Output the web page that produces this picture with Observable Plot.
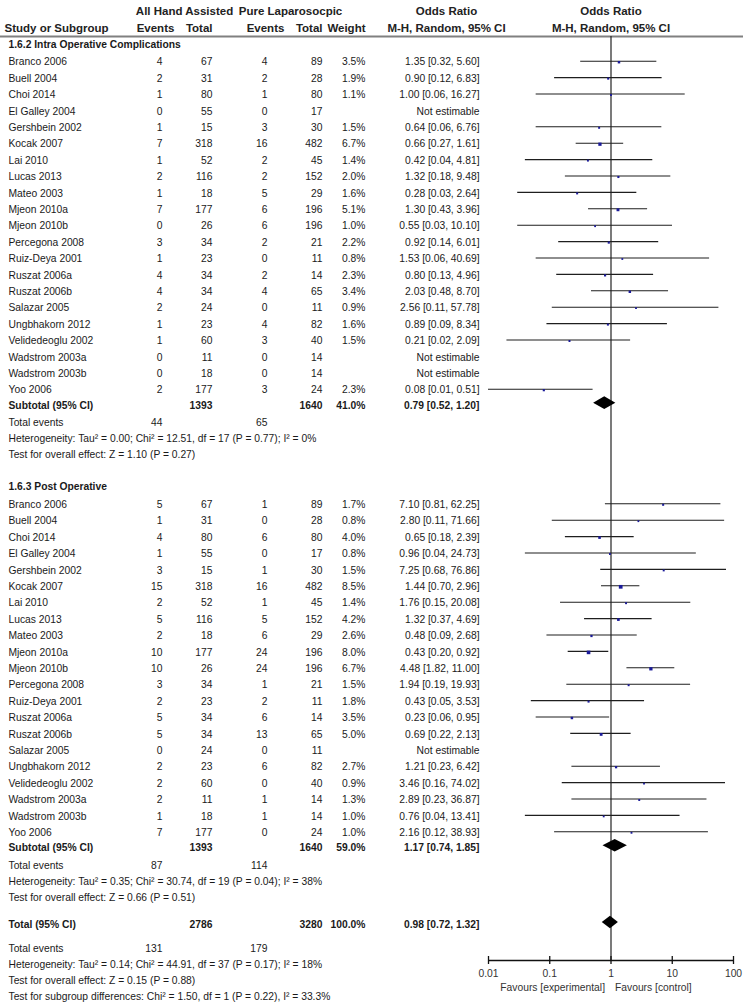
<!DOCTYPE html>
<html><head><meta charset="utf-8">
<script src="https://cdn.jsdelivr.net/npm/d3@7"></script>
<script src="https://cdn.jsdelivr.net/npm/@observablehq/plot@0.6"></script>
<style>body{margin:0;background:#fff}svg{display:block}</style>
</head><body><div id="chart"></div>
<script>
// ---------- data ----------
const studyNames = ["Branco 2006","Buell 2004","Choi 2014","El Galley 2004","Gershbein 2002","Kocak 2007","Lai 2010","Lucas 2013","Mateo 2003","Mjeon 2010a","Mjeon 2010b","Percegona 2008","Ruiz-Deya 2001","Ruszat 2006a","Ruszat 2006b","Salazar 2005","Ungbhakorn 2012","Velidedeoglu 2002","Wadstrom 2003a","Wadstrom 2003b","Yoo 2006"];

const intraEvents1 = [4,2,1,0,1,7,1,2,1,7,0,3,1,4,4,2,1,1,0,0,2];
const intraTotal1  = [67,31,80,55,15,318,52,116,18,177,26,34,23,34,34,24,23,60,11,18,177];
const intraEvents2 = [4,2,1,0,3,16,2,2,5,6,6,2,0,2,4,0,4,3,0,0,3];
const intraTotal2  = [89,28,80,17,30,482,45,152,29,196,196,21,11,14,65,11,82,40,14,14,24];
const intraWeight  = [3.5,1.9,1.1,null,1.5,6.7,1.4,2.0,1.6,5.1,1.0,2.2,0.8,2.3,3.4,0.9,1.6,1.5,null,null,2.3];
const intraOR      = [1.35,0.90,1.00,null,0.64,0.66,0.42,1.32,0.28,1.30,0.55,0.92,1.53,0.80,2.03,2.56,0.89,0.21,null,null,0.08];
const intraLo      = [0.32,0.12,0.06,null,0.06,0.27,0.04,0.18,0.03,0.43,0.03,0.14,0.06,0.13,0.48,0.11,0.09,0.02,null,null,0.01];
const intraHi      = [5.60,6.83,16.27,null,6.76,1.61,4.81,9.48,2.64,3.96,10.10,6.01,40.69,4.96,8.70,57.78,8.34,2.09,null,null,0.51];

const postEvents1 = [5,1,4,1,3,15,2,5,2,10,10,3,2,5,5,0,2,2,2,1,7];
const postTotal1  = [67,31,80,55,15,318,52,116,18,177,26,34,23,34,34,24,23,60,11,18,177];
const postEvents2 = [1,0,6,0,1,16,1,5,6,24,24,1,2,6,13,0,6,0,1,1,0];
const postTotal2  = [89,28,80,17,30,482,45,152,29,196,196,21,11,14,65,11,82,40,14,14,24];
const postWeight  = [1.7,0.8,4.0,0.8,1.5,8.5,1.4,4.2,2.6,8.0,6.7,1.5,1.8,3.5,5.0,null,2.7,0.9,1.3,1.0,1.0];
const postOR      = [7.10,2.80,0.65,0.96,7.25,1.44,1.76,1.32,0.48,0.43,4.48,1.94,0.43,0.23,0.69,null,1.21,3.46,2.89,0.76,2.16];
const postLo      = [0.81,0.11,0.18,0.04,0.68,0.70,0.15,0.37,0.09,0.20,1.82,0.19,0.05,0.06,0.22,null,0.23,0.16,0.23,0.04,0.12];
const postHi      = [62.25,71.66,2.39,24.73,76.86,2.96,20.08,4.69,2.68,0.92,11.00,19.93,3.53,0.95,2.13,null,6.42,74.02,36.87,13.41,38.93];

const sectionTitles   = ["1.6.2 Intra Operative Complications","1.6.3 Post Operative"];
const subtotalTotal1  = [1393,1393];
const subtotalTotal2  = [1640,1640];
const subtotalWeight  = [41.0,59.0];
const subtotalOR      = [0.79,1.17];
const subtotalLo      = [0.52,0.74];
const subtotalHi      = [1.20,1.85];
const subEvents1      = [44,87];
const subEvents2      = [65,114];
const subHeterogeneity = ["Heterogeneity: Tau² = 0.00; Chi² = 12.51, df = 17 (P = 0.77); I² = 0%","Heterogeneity: Tau² = 0.35; Chi² = 30.74, df = 19 (P = 0.04); I² = 38%"];
const subOverall       = ["Test for overall effect: Z = 1.10 (P = 0.27)","Test for overall effect: Z = 0.66 (P = 0.51)"];

const totalTotal1 = 2786, totalTotal2 = 3280, totalWeight = 100.0;
const totalOR = 0.98, totalLo = 0.72, totalHi = 1.32;
const totalEvents1 = 131, totalEvents2 = 179;
const totalStats = ["Heterogeneity: Tau² = 0.14; Chi² = 44.91, df = 37 (P = 0.17); I² = 18%","Test for overall effect: Z = 0.15 (P = 0.88)","Test for subgroup differences: Chi² = 1.50, df = 1 (P = 0.22), I² = 33.3%"];

const axisTicks = [0.01,0.1,1,10,100];
const axisTickLabels = ["0.01","0.1","1","10","100"];
const favoursLabels = ["Favours [experimental]","Favours [control]"];

// ---------- layout (row units) ----------
const U = 16.4;
const L = {
  head1: 11/U, head2: 28/U, headLine: 36/U,
  sec: [44/U, 486/U], start: [61.7/U, 504.3/U],
  axis: 960/U, tickLab: 973.5/U, fav: 987/U
};
const f2 = d3.format(".2f");
const orText = (o,l,h) => o == null ? "Not estimable" : `${f2(o)} [${f2(l)}, ${f2(h)}]`;
const wText = w => w == null ? "" : w.toFixed(1) + "%";
const s = v => v == null ? "" : String(v);

const sections = [
  {e1:intraEvents1,t1:intraTotal1,e2:intraEvents2,t2:intraTotal2,w:intraWeight,or:intraOR,lo:intraLo,hi:intraHi},
  {e1:postEvents1,t1:postTotal1,e2:postEvents2,t2:postTotal2,w:postWeight,or:postOR,lo:postLo,hi:postHi}
];
const studyRows = [];
const subRows = [];
const plainRows = [];
const evRows = [];
const secRows = [];
sections.forEach((S, k) => {
  const y0 = L.start[k];
  secRows.push({y: L.sec[k], text: sectionTitles[k]});
  studyNames.forEach((n, i) => {
    studyRows.push({y: y0 + i, name: n, e1: s(S.e1[i]), t1: s(S.t1[i]), e2: s(S.e2[i]), t2: s(S.t2[i]),
      w: S.w[i], or: S.or[i], lo: S.lo[i], hi: S.hi[i], wt: wText(S.w[i]), ot: orText(S.or[i], S.lo[i], S.hi[i])});
  });
  const ys = y0 + studyNames.length - 1;
  subRows.push({y: ys + 0.93, name: "Subtotal (95% CI)", t1: s(subtotalTotal1[k]), t2: s(subtotalTotal2[k]),
    wt: wText(subtotalWeight[k]), ot: orText(subtotalOR[k], subtotalLo[k], subtotalHi[k]),
    or: subtotalOR[k], lo: subtotalLo[k], hi: subtotalHi[k]});
  evRows.push({y: ys + 2.0, e1: s(subEvents1[k]), e2: s(subEvents2[k])});
  plainRows.push({y: ys + 2.98, text: subHeterogeneity[k]});
  plainRows.push({y: ys + 3.93, text: subOverall[k]});
});
subRows.push({y: 924.3/U, name: "Total (95% CI)", t1: s(totalTotal1), t2: s(totalTotal2), wt: wText(totalWeight),
  ot: orText(totalOR, totalLo, totalHi), or: totalOR, lo: totalLo, hi: totalHi});
evRows.push({y: 948.3/U, e1: s(totalEvents1), e2: s(totalEvents2)});
totalStats.forEach((t, i) => plainRows.push({y: (964.3 + i*15.85)/U, text: t}));
evRows.forEach(r => r.name = "Total events");

const estRows = studyRows.filter(d => d.or != null);
const H = 6.3 / U;
const diamonds = subRows.flatMap((d, k) => [
  {id: k, y: d.y - 0.14 - H, x1: d.or, x2: d.or},
  {id: k, y: d.y - 0.14, x1: d.lo, x2: d.hi},
  {id: k, y: d.y - 0.14 + H, x1: d.or, x2: d.or}
]);

const col = (data, field, dx, anchor, weight) =>
  Plot.text(data, {y: "y", text: field, frameAnchor: "left", dx, textAnchor: anchor, fontWeight: weight});

const HEADFONT = "'Liberation Sans Narrow','Arial Narrow','Liberation Sans',Arial,sans-serif";
const head1 = [{y: L.head1}];
const head2 = [{y: L.head2}];
const hcol = (data, text, dx, anchor) =>
  Plot.text(data, {y: "y", text: () => text, frameAnchor: "left", dx, textAnchor: anchor, fontFamily: HEADFONT, fontSize: 11.5, fontWeight: "bold", fill: "#222"});

const chart = Plot.plot({
  width: 743, height: 1004, margin: 0,
  x: {type: "log", domain: [0.01, 100], range: [488, 733], axis: null},
  y: {domain: [0, 1004/U], range: [0, 1004], axis: null},
  r: {type: "linear", domain: [0, 8.5], range: [0.9, 2.1]},
  style: {fontFamily: "'Liberation Sans',Arial,sans-serif", fontSize: "10.3px", color: "#1a1a1a", background: "#fff"},
  marks: [
    hcol(head1, "All Hand Assisted", 184, "middle"),
    hcol(head1, "Pure Laparosocpic", 290, "middle"),
    hcol(head1, "Odds Ratio", 446, "middle"),
    Plot.text(head1, {y: "y", x: () => 1, text: () => "Odds Ratio", fontFamily: HEADFONT, fontSize: 11.5, fontWeight: "bold", fill: "#222"}),
    hcol(head2, "Study or Subgroup", 4, "start"),
    hcol(head2, "Events", 155, "middle"),
    hcol(head2, "Total", 212, "end"),
    hcol(head2, "Events", 265, "middle"),
    hcol(head2, "Total", 322, "end"),
    hcol(head2, "Weight", 365, "end"),
    hcol(head2, "M-H, Random, 95% CI", 446, "middle"),
    Plot.text(head2, {y: "y", x: () => 1, text: () => "M-H, Random, 95% CI", fontFamily: HEADFONT, fontSize: 11.5, fontWeight: "bold", fill: "#222"}),
    Plot.ruleY([L.headLine], {stroke: "#808080", strokeWidth: 2}),
    Plot.ruleX([1], {y1: L.headLine, y2: L.axis, stroke: "#222", strokeWidth: 1.2}),
    col(secRows, "text", 8, "start", "bold"),
    col(studyRows, "name", 8, "start", "normal"),
    col(studyRows, "e1", 162, "end", "normal"),
    col(studyRows, "t1", 212, "end", "normal"),
    col(studyRows, "e2", 267, "end", "normal"),
    col(studyRows, "t2", 322, "end", "normal"),
    col(studyRows, "wt", 365, "end", "normal"),
    col(studyRows, "ot", 479, "end", "normal"),
    col(subRows, "name", 8, "start", "bold"),
    col(subRows, "t1", 212, "end", "bold"),
    col(subRows, "t2", 322, "end", "bold"),
    col(subRows, "wt", 365, "end", "bold"),
    col(subRows, "ot", 479, "end", "bold"),
    col(evRows, "name", 8, "start", "normal"),
    col(evRows, "e1", 162, "end", "normal"),
    col(evRows, "e2", 267, "end", "normal"),
    col(plainRows, "text", 8, "start", "normal"),
    Plot.ruleY(estRows, {y: d => d.y - 0.06, x1: "lo", x2: "hi", stroke: "#1e1e1e", strokeWidth: 1.1}),
    Plot.dot(estRows, {x: "or", y: "y", r: "w", symbol: "square", fill: "#1a1a99", stroke: "none"}),
    Plot.areaX(diamonds, {y: "y", x1: "x1", x2: "x2", z: "id", fill: "black", curve: "linear"}),
    Plot.ruleY([L.axis], {x1: 0.01, x2: 100, stroke: "#111", strokeWidth: 1.3}),
    Plot.ruleX(axisTicks, {x: d => d, y1: L.axis - 4/U, y2: L.axis + 4/U, stroke: "#111", strokeWidth: 1.3}),
    Plot.text(axisTicks, {x: d => d, y: () => L.tickLab, text: (d, i) => axisTickLabels[i], fill: "#333"}),
    Plot.text([favoursLabels[0]], {x: () => 1, y: () => L.fav, text: d => d, dx: -6, textAnchor: "end", fill: "#333"}),
    Plot.text([favoursLabels[1]], {x: () => 1, y: () => L.fav, text: d => d, dx: 4, textAnchor: "start", fill: "#333"})
  ]
});
document.getElementById("chart").append(chart);
</script>
</body></html>
